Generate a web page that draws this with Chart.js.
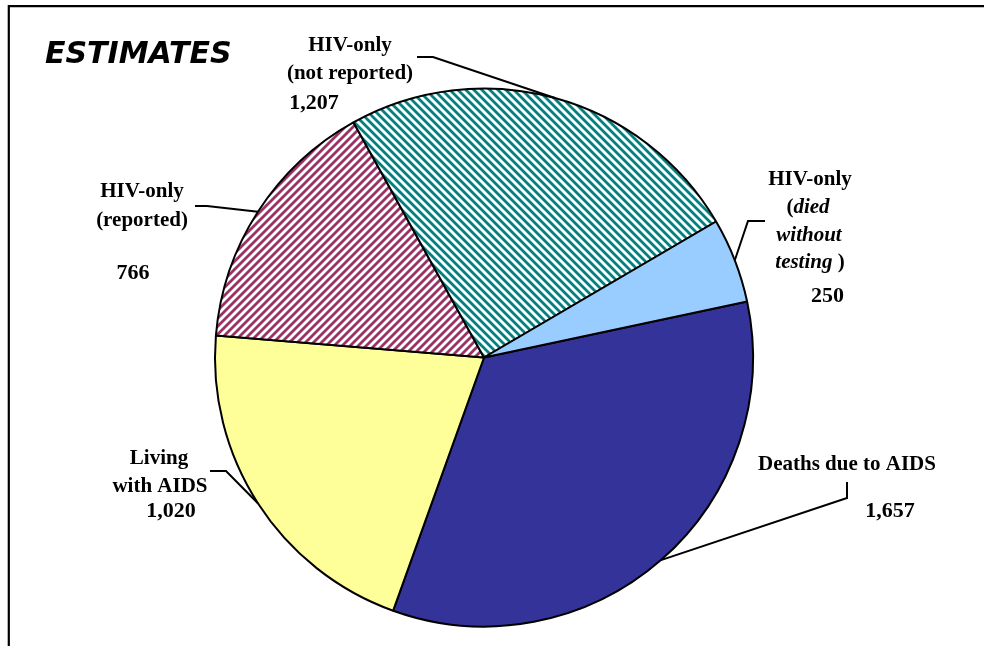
<!DOCTYPE html>
<html>
<head>
<meta charset="utf-8">
<title>Estimates</title>
<script src="https://cdn.jsdelivr.net/npm/chart.js@4.4.1/dist/chart.umd.min.js"></script>
<style>
  html, body { margin: 0; padding: 0; background: #fff; }
  #wrap { position: relative; width: 984px; height: 646px; }
</style>
</head>
<body>
<div id="wrap"><canvas id="pieChart" width="984" height="646"></canvas></div>
<script>
// data
const categories = ["Deaths due to AIDS", "Living with AIDS", "HIV-only (reported)", "HIV-only (not reported)", "HIV-only (died without testing)"];
const counts = [1657, 1020, 766, 1207, 250];
const valueLabels = ["1,657", "1,020", "766", "1,207", "250"];
const chartTitle = "ESTIMATES";

const SERIF = '"Liberation Serif", "Times New Roman", serif';

// stripe fill like the old Excel hatch patterns
function stripes(color, dir) {
  const c = document.createElement("canvas");
  c.width = 8;
  c.height = 8;
  const g = c.getContext("2d");
  g.fillStyle = "#fff";
  g.fillRect(0, 0, 8, 8);
  g.strokeStyle = color;
  g.lineWidth = 2.8;
  g.beginPath();
  if (dir === "/") {
    g.moveTo(-2, 10); g.lineTo(10, -2);
    g.moveTo(-2, 2); g.lineTo(2, -2);
    g.moveTo(6, 10); g.lineTo(10, 6);
  } else {
    g.moveTo(-2, -2); g.lineTo(10, 10);
    g.moveTo(6, -2); g.lineTo(10, 2);
    g.moveTo(-2, 6); g.lineTo(2, 10);
  }
  g.stroke();
  return g.createPattern(c, "repeat");
}

const ctx = document.getElementById("pieChart").getContext("2d");
const fills = ["#333399", "#FFFF99", stripes("#993366", "/"), stripes("#008080", "\\"), "#99CCFF"];

// label blocks: each line is a list of [text, italic] parts
const labelBlocks = [
  { lines: [{ parts: [["Deaths due to AIDS", false]], x: 847, y: 470 }], num: { x: 890, y: 517, align: "center" } },
  { lines: [{ parts: [["Living", false]], x: 159, y: 464 }, { parts: [["with AIDS", false]], x: 160, y: 492 }], num: { x: 171, y: 517, align: "center" } },
  { lines: [{ parts: [["HIV-only", false]], x: 142, y: 197 }, { parts: [["(reported)", false]], x: 142, y: 226 }], num: { x: 133, y: 279, align: "center" } },
  { lines: [{ parts: [["HIV-only", false]], x: 350, y: 51 }, { parts: [["(not reported)", false]], x: 350, y: 79 }], num: { x: 314, y: 109, align: "center" } },
  { lines: [
      { parts: [["HIV-only", false]], x: 810, y: 185 },
      { parts: [["(", false], ["died", true]], x: 808, y: 213 },
      { parts: [["without", true]], x: 809, y: 241 },
      { parts: [["testing", true], [" )", false]], x: 810, y: 268 }
    ], num: { x: 844, y: 302, align: "right" } }
];

// elbow of each leader line, the last point is joined to the slice edge
const leaderElbows = [
  [[847, 482], [847, 498]],
  [[210, 471], [226, 471]],
  [[195, 206], [207, 206]],
  [[417, 57], [433, 57]],
  [[765, 221], [748, 221]]
];

function drawParts(c, parts, cx, y) {
  let total = 0;
  const widths = parts.map(([t, it]) => {
    c.font = (it ? "italic " : "") + "bold 21px " + SERIF;
    const w = c.measureText(t).width;
    total += w;
    return w;
  });
  let x = cx - total / 2;
  parts.forEach(([t, it], i) => {
    c.font = (it ? "italic " : "") + "bold 21px " + SERIF;
    c.fillText(t, x, y);
    x += widths[i];
  });
}

const annotations = {
  id: "annotations",
  beforeDraw(chart) {
    const c = chart.ctx;
    c.save();
    c.fillStyle = "#fff";
    c.fillRect(0, 0, chart.width, chart.height);
    c.restore();
  },
  afterDraw(chart) {
    const c = chart.ctx;
    const arcs = chart.getDatasetMeta(0).data;
    c.save();

    // frame
    c.strokeStyle = "#000";
    c.lineWidth = 2.2;
    c.beginPath();
    c.moveTo(984, 6.2);
    c.lineTo(8.8, 6.2);
    c.lineTo(8.8, 646);
    c.stroke();

    // title
    c.fillStyle = "#000";
    c.textBaseline = "alphabetic";
    c.textAlign = "left";
    c.font = 'italic bold 30px "DejaVu Sans", Verdana, sans-serif';
    c.fillText(chartTitle, 45, 63);

    // leader lines to the middle of each slice edge
    c.lineWidth = 2;
    c.lineJoin = "miter";
    arcs.forEach((arc, i) => {
      const p = arc.getProps(["x", "y", "startAngle", "endAngle", "outerRadius"], true);
      const mid = (p.startAngle + p.endAngle) / 2;
      const ex = p.x + Math.cos(mid) * p.outerRadius;
      const ey = p.y + Math.sin(mid) * p.outerRadius;
      const el = leaderElbows[i];
      c.beginPath();
      c.moveTo(el[0][0], el[0][1]);
      c.lineTo(el[1][0], el[1][1]);
      c.lineTo(ex, ey);
      c.stroke();
    });

    // labels and values
    labelBlocks.forEach((b, i) => {
      c.textAlign = "left";
      b.lines.forEach((ln) => drawParts(c, ln.parts, ln.x, ln.y));
      c.font = "bold 22px " + SERIF;
      c.textAlign = b.num.align;
      c.fillText(valueLabels[i], b.num.x, b.num.y);
    });

    c.restore();
  }
};

new Chart(ctx, {
  type: "pie",
  data: {
    labels: categories,
    datasets: [{
      data: counts,
      backgroundColor: fills,
      borderColor: "#000",
      borderWidth: 2
    }]
  },
  options: {
    responsive: false,
    animation: false,
    events: [],
    rotation: 78,
    radius: 269,
    layout: { padding: { top: 79, bottom: 10, left: 100, right: 116 } },
    plugins: {
      legend: { display: false },
      tooltip: { enabled: false },
      title: { display: false }
    }
  },
  plugins: [annotations]
});
</script>
</body>
</html>
